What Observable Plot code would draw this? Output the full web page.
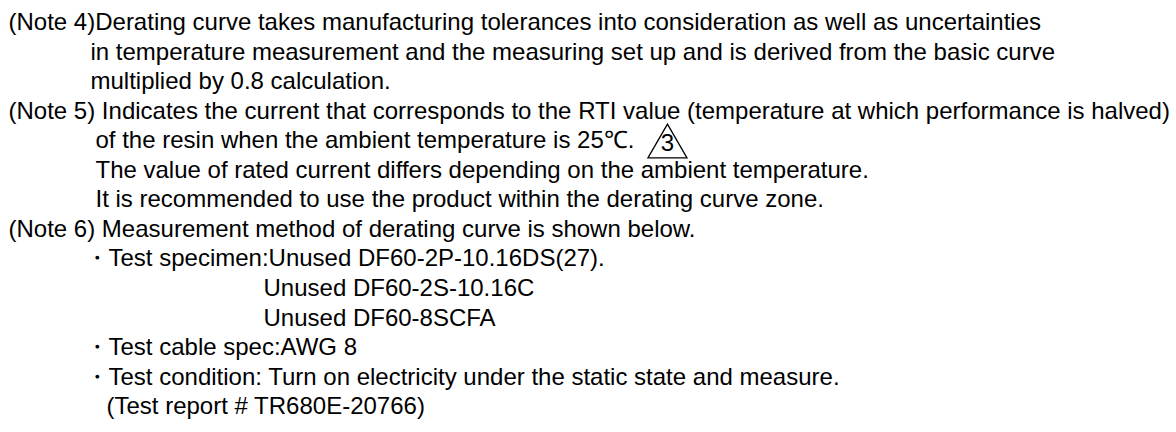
<!DOCTYPE html>
<html>
<head>
<meta charset="utf-8">
<script src="https://cdn.jsdelivr.net/npm/d3@7"></script>
<script src="https://cdn.jsdelivr.net/npm/@observablehq/plot@0.6"></script>
<style>
  html, body { margin: 0; padding: 0; background: #fff; }
  #chart svg { display: block; }
</style>
</head>
<body>
<div id="chart"></div>
<script>
// ---- content ----
const note4Lines = [
  "(Note 4)Derating curve takes manufacturing tolerances into consideration as well as uncertainties",
  "in temperature measurement and the measuring set up and is derived from the basic curve",
  "multiplied by 0.8 calculation."
];
const note5Lines = [
  "(Note 5) Indicates the current that corresponds to the RTI value (temperature at which performance is halved)",
  "of the resin when the ambient temperature is 25\u2103.",
  "The value of rated current differs depending on the ambient temperature.",
  "It is recommended to use the product within the derating curve zone."
];
const note6Lines = [
  "(Note 6) Measurement method of derating curve is shown below.",
  "\u30FBTest specimen:Unused DF60-2P-10.16DS(27).",
  "Unused DF60-2S-10.16C",
  "Unused DF60-8SCFA",
  "\u30FBTest cable spec:AWG 8",
  "\u30FBTest condition: Turn on electricity under the static state and measure.",
  "(Test report # TR680E-20766)"
];
const note4Levels = ["head", "cont4", "cont4"];
const note5Levels = ["head", "cont5", "cont5", "cont5"];
const note6Levels = ["head", "bullet", "sub", "sub", "bullet", "bullet", "report"];
const revisionMark = "3";

// ---- layout (styling, not data) ----
const W = 1176, H = 432;
const fontSize = 24;
const fontFamily = "Arial, 'Liberation Sans', Helvetica, sans-serif";
const indent = {head: 8, cont4: 90, cont5: 95, bullet: 84, sub: 263, report: 106};

const rows = [];
[[note4Lines, note4Levels], [note5Lines, note5Levels], [note6Lines, note6Levels]].forEach(([lines, levels]) => {
  lines.forEach((t, i) => rows.push({text: t, level: levels[i], row: rows.length}));
});

// measure text to place the revision triangle after the "25℃." line
const ctx = document.createElement("canvas").getContext("2d");
ctx.font = `${fontSize}px ${fontFamily}`;
const markRowObj = rows.find(d => d.text.endsWith("25\u2103."));
const markX = indent[markRowObj.level] + ctx.measureText(markRowObj.text).width + 33;
const markData = [{x: markX, row: markRowObj.row, label: revisionMark}];

const chart = Plot.plot({
  width: W,
  height: H,
  margin: 0,
  style: {background: "#fff", fontFamily, color: "#000"},
  x: {type: "linear", domain: [0, W], range: [0, W], axis: null},
  y: {type: "linear", domain: [0, rows.length - 1], range: [22, 406], axis: null},
  marks: [
    Plot.text(rows, {
      x: d => indent[d.level],
      y: "row",
      text: "text",
      textAnchor: "start",
      lineAnchor: "middle",
      fontSize,
      fill: "#000"
    }),
    Plot.dot(markData, {
      x: "x",
      y: "row",
      symbol: "triangle",
      r: 14.5,
      dy: 6,
      stroke: "#000",
      strokeWidth: 1.3,
      fill: "none"
    }),
    Plot.text(markData, {
      x: "x",
      y: "row",
      text: "label",
      lineAnchor: "middle",
      fontSize: 24,
      dy: 3,
      fill: "#000"
    })
  ]
});
document.getElementById("chart").append(chart);
</script>
</body>
</html>
